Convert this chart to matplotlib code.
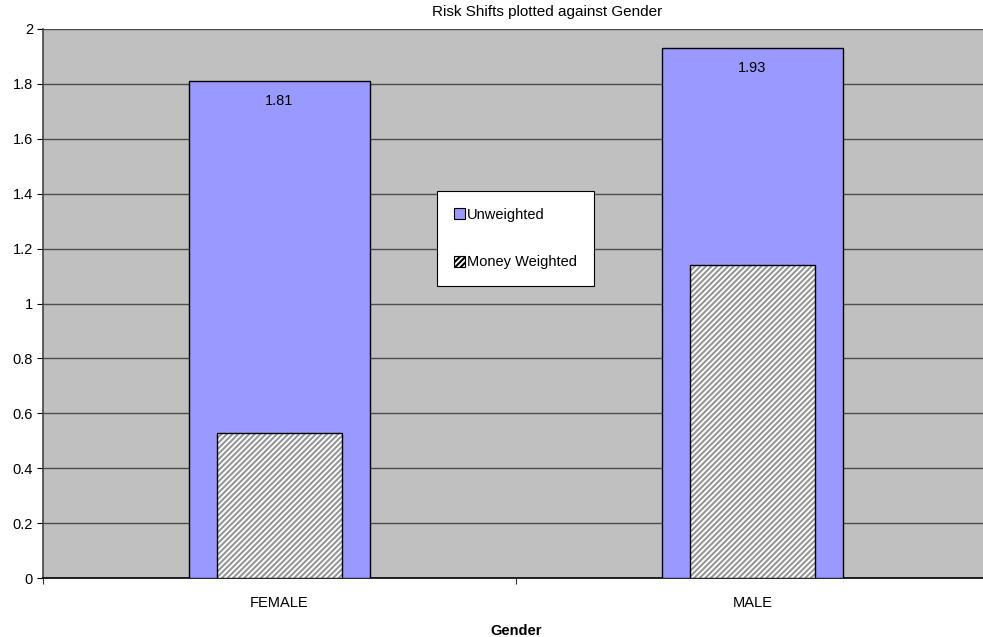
import matplotlib
matplotlib.use("Agg")
import matplotlib.pyplot as plt
import numpy as np

plt.rcParams['font.family'] = ['Liberation Sans', 'DejaVu Sans']
plt.rcParams['hatch.linewidth'] = 1.5
plt.rcParams['hatch.color'] = '#969696'

categories = ["FEMALE", "MALE"]
unweighted = [1.81, 1.93]
money_weighted = [0.53, 1.14]
yticks = [0, 0.2, 0.4, 0.6, 0.8, 1, 1.2, 1.4, 1.6, 1.8, 2]
ytick_labels = ["0", "0.2", "0.4", "0.6", "0.8", "1", "1.2", "1.4", "1.6", "1.8", "2"]

FS = 10.5

fig = plt.figure(figsize=(9.83, 6.37), dpi=100)
ax = fig.add_axes([42.7 / 983, 59 / 637, 946 / 983, 549 / 637])
ax.set_facecolor('#c0c0c0')

x = np.arange(len(categories))
ax.bar(x, unweighted, width=0.383, color='#9999ff', edgecolor='black',
       linewidth=1.0, zorder=3, label='Unweighted')
ax.bar(x, money_weighted, width=0.264, color='white', edgecolor='#969696',
       hatch='//////', linewidth=0, zorder=4, label='Money Weighted')
ax.bar(x, money_weighted, width=0.264, color='none', edgecolor='black',
       linewidth=1.0, zorder=5)

for xi, v in zip(x, unweighted):
    ax.annotate(f"{v:.2f}", (xi, v), xytext=(0, -14), textcoords='offset points',
                ha='center', va='center', fontsize=FS, zorder=6)

ax.set_xlim(-0.5, len(categories) - 0.5)
ax.set_ylim(0, 2)
ax.set_yticks(yticks)
ax.set_yticklabels(ytick_labels, fontsize=FS)
ax.yaxis.grid(True, color='#4d4d4d', linewidth=1.0, zorder=1)
ax.set_axisbelow(True)

ax.set_xticks(x)
ax.set_xticklabels(categories, fontsize=FS)
ax.tick_params(axis='x', which='major', length=0, pad=13)
ax.set_xticks([-0.5, 0.5, 1.5], minor=True)
ax.tick_params(axis='x', which='minor', length=4, width=0.8, color='#333333')
ax.tick_params(axis='y', length=4, width=0.8, direction='out', pad=3)

for side in ['top', 'right']:
    ax.spines[side].set_visible(False)
ax.spines['left'].set_color('#444444')
ax.spines['left'].set_linewidth(1.2)
ax.spines['bottom'].set_color('black')
ax.spines['bottom'].set_linewidth(1.2)

ax.set_xlabel("Gender", fontsize=FS, fontweight='bold', labelpad=10)
fig.text(432 / 983, 1 - 12 / 637, "Risk Shifts plotted against Gender",
         ha='left', va='center', fontsize=11)

leg = ax.legend(loc='center', bbox_to_anchor=((515.5 - 42.7) / 946, (578 - 238.5) / 549),
                fontsize=FS, handlelength=0.75, handleheight=0.75, handletextpad=0.15,
                labelspacing=2.3, borderpad=1.15, borderaxespad=0,
                fancybox=False, framealpha=1, edgecolor='black')
leg.get_frame().set_linewidth(0.8)
leg.set_zorder(10)
for h in leg.legend_handles:
    h.set_edgecolor('black')
    h.set_linewidth(0.8)

fig.savefig("out.png", dpi=100, facecolor='white')
